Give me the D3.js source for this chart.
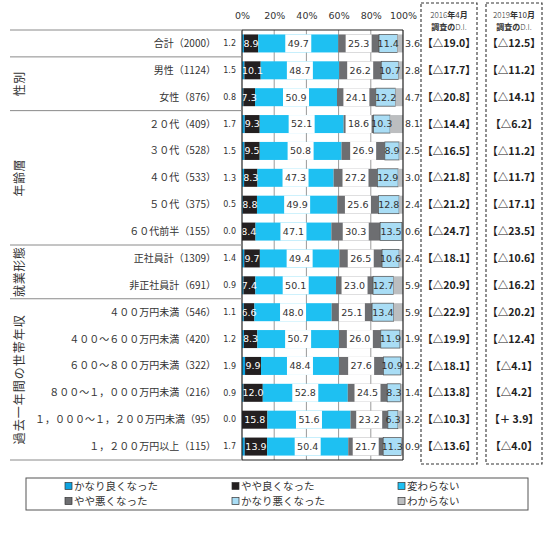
<!DOCTYPE html>
<html>
<head>
<meta charset="utf-8">
<script src="https://cdn.jsdelivr.net/npm/d3@7"></script>
<style>
  body { margin: 0; background: #fff; }
  svg { display: block; }
</style>
</head>
<body>
<svg id="chart" width="549" height="535"></svg>
<script>
// Survey categories (row labels) and their group headings
const categories = [
  "合計（2000）", "男性（1124）", "女性（876）",
  "２０代（409）", "３０代（528）", "４０代（533）", "５０代（375）", "６０代前半（155）",
  "正社員計（1309）", "非正社員計（691）",
  "４００万円未満（546）", "４００～６００万円未満（420）", "６００～８００万円未満（322）",
  "８００～１，０００万円未満（216）", "１，０００～１，２００万円未満（95）", "１，２００万円以上（115）"
];
const groups = [
  { name: "性別", first: 1, last: 2 },
  { name: "年齢層", first: 3, last: 7 },
  { name: "就業形態", first: 8, last: 9 },
  { name: "過去一年間の世帯年収", first: 10, last: 15 }
];

// Answer shares (%) per category
const seriesNames = ["かなり良くなった", "やや良くなった", "変わらない", "やや悪くなった", "かなり悪くなった", "わからない"];
const muchBetter   = [1.2, 1.5, 0.8, 1.7, 1.5, 1.3, 0.5, 0.0, 1.4, 0.9, 1.1, 1.2, 1.9, 0.9, 0.0, 1.7];
const littleBetter = [8.9, 10.1, 7.3, 9.3, 9.5, 8.3, 8.8, 8.4, 9.7, 7.4, 6.6, 8.3, 9.9, 12.0, 15.8, 13.9];
const unchanged    = [49.7, 48.7, 50.9, 52.1, 50.8, 47.3, 49.9, 47.1, 49.4, 50.1, 48.0, 50.7, 48.4, 52.8, 51.6, 50.4];
const littleWorse  = [25.3, 26.2, 24.1, 18.6, 26.9, 27.2, 25.6, 30.3, 26.5, 23.0, 25.1, 26.0, 27.6, 24.5, 23.2, 21.7];
const muchWorse    = [11.4, 10.7, 12.2, 10.3, 8.9, 12.9, 12.8, 13.5, 10.6, 12.7, 13.4, 11.9, 10.9, 8.3, 6.3, 11.3];
const unknown      = [3.6, 2.8, 4.7, 8.1, 2.5, 3.0, 2.4, 0.6, 2.4, 5.9, 5.9, 1.9, 1.2, 1.4, 3.2, 0.9];

// Diffusion index columns
const diHeaders = [
  { year: "2016", yearMark: "年", month: "4", monthMark: "月" },
  { year: "2019", yearMark: "年", month: "10", monthMark: "月" }
];
const di2016 = ["【△19.0】", "【△17.7】", "【△20.8】", "【△14.4】", "【△16.5】", "【△21.8】", "【△21.2】", "【△24.7】",
                "【△18.1】", "【△20.9】", "【△22.9】", "【△19.9】", "【△18.1】", "【△13.8】", "【△10.3】", "【△13.6】"];
const di2019 = ["【△12.5】", "【△11.2】", "【△14.1】", "【△6.2】", "【△11.2】", "【△11.7】", "【△17.1】", "【△23.5】",
                "【△10.6】", "【△16.2】", "【△20.2】", "【△12.4】", "【△4.1】", "【△4.2】", "【＋ 3.9】", "【△4.0】"];

const tickValues = [0, 20, 40, 60, 80, 100];

const colors = ["#0ea3e0", "#231f20", "#1ec0f2", "#6d6e71", "#a9ddf5", "#bcbec0"];
const JP = "'Noto Sans CJK JP', 'Noto Sans', sans-serif";
const NUM = "'DejaVu Sans', Verdana, sans-serif";

const svg = d3.select("#chart");

const x = d3.scaleLinear().domain([0, 100]).range([242, 403]);
const y = d3.scaleBand().domain(d3.range(categories.length)).range([30, 460])
  .paddingInner(0.33).paddingOuter(0.165);
const step = y.step();
const yTop = 30, yBot = 460;

// Stack the six answer series per row
const seriesArrays = [muchBetter, littleBetter, unchanged, littleWorse, muchWorse, unknown];
const rows = categories.map((c, i) => {
  let acc = 0;
  return seriesArrays.map((arr, k) => {
    const seg = { row: i, k, v: arr[i], x0: acc, x1: Math.min(100, acc + arr[i]) };
    acc += arr[i];
    return seg;
  });
});

// Gridlines
svg.append("g").selectAll("line").data([20, 40, 60, 80]).join("line")
  .attr("x1", d => x(d)).attr("x2", d => x(d))
  .attr("y1", yTop).attr("y2", yBot)
  .attr("stroke", "#9a9a9a").attr("stroke-width", 1);

// Axis labels along the top
const axis = d3.axisTop(x).tickValues(tickValues).tickSize(0).tickFormat(d => d + "%");
const ax = svg.append("g").attr("transform", "translate(0,16)").call(axis);
ax.select(".domain").remove();
ax.selectAll("text").attr("font-family", NUM).attr("font-size", 9.5).attr("fill", "#333").attr("dy", "0.32em").attr("y", 0);

// Bars
const barG = svg.append("g");
rows.forEach(segs => {
  const g = barG.append("g");
  g.selectAll("rect").data(segs).join("rect")
    .attr("x", d => x(d.x0))
    .attr("width", d => Math.max(0, x(d.x1) - x(d.x0)))
    .attr("y", d => y(d.row))
    .attr("height", y.bandwidth())
    .attr("fill", d => colors[d.k])
    .attr("stroke", d => d.k === 4 ? "#4a4a4a" : "none")
    .attr("stroke-width", 0.7);
});

// Value labels
const lblG = svg.append("g").attr("font-family", NUM).attr("font-size", 9.5);
rows.forEach(segs => {
  const i = segs[0].row;
  const cy = y(i) + y.bandwidth() / 2;
  // かなり良くなった: outside on the left
  lblG.append("text").attr("x", 236).attr("y", cy).attr("dy", "0.35em")
    .attr("text-anchor", "end").attr("font-size", 8).attr("fill", "#333")
    .text(segs[0].v.toFixed(1));
  // やや良くなった: white on black
  const s1 = segs[1];
  lblG.append("text").attr("x", (x(s1.x0) + x(s1.x1)) / 2).attr("y", cy).attr("dy", "0.35em")
    .attr("text-anchor", "middle").attr("fill", "#fff").text(s1.v.toFixed(1));
  // 変わらない and やや悪くなった: dark text on a white box
  [segs[2], segs[3]].forEach(s => {
    const cx = (x(s.x0) + x(s.x1)) / 2;
    lblG.append("rect").attr("x", cx - 13).attr("y", y(i)).attr("width", 26)
      .attr("height", y.bandwidth()).attr("fill", "#fff");
    lblG.append("text").attr("x", cx).attr("y", cy).attr("dy", "0.35em")
      .attr("text-anchor", "middle").attr("fill", "#333").text(s.v.toFixed(1));
  });
  // かなり悪くなった: centered on the segment
  const s4 = segs[4];
  lblG.append("text").attr("x", (x(s4.x0) + x(s4.x1)) / 2).attr("y", cy).attr("dy", "0.35em")
    .attr("text-anchor", "middle").attr("fill", "#333").text(s4.v.toFixed(1));
  // わからない: right of the bar
  lblG.append("text").attr("x", x(100) + 2).attr("y", cy).attr("dy", "0.35em")
    .attr("text-anchor", "start").attr("fill", "#333").text(segs[5].v.toFixed(1));
});

// Plot frame
const frame = svg.append("g").attr("stroke", "#222").attr("stroke-width", 1.2);
frame.append("line").attr("x1", x(0)).attr("x2", x(0)).attr("y1", yTop).attr("y2", yBot);
frame.append("line").attr("x1", x(100)).attr("x2", x(100)).attr("y1", yTop).attr("y2", yBot);
frame.append("line").attr("x1", x(0)).attr("x2", x(100)).attr("y1", yTop).attr("y2", yTop);
frame.append("line").attr("x1", x(0)).attr("x2", x(100)).attr("y1", yBot).attr("y2", yBot);

// Row-group separators on the label side
const sepYs = [yTop, yTop + step, ...groups.map(g => yTop + (g.last + 1) * step)];
svg.append("g").selectAll("line").data(sepYs).join("line")
  .attr("x1", 10).attr("x2", x(0)).attr("y1", d => d).attr("y2", d => d)
  .attr("stroke", "#8a8a8a").attr("stroke-width", 1);

// Category labels
svg.append("g").selectAll("text").data(categories).join("text")
  .attr("x", 216).attr("y", (d, i) => y(i) + y.bandwidth() / 2).attr("dy", "0.35em")
  .attr("text-anchor", "end").attr("font-family", JP).attr("font-size", 10).attr("fill", "#333")
  .text(d => d);

// Group labels, rotated
svg.append("g").selectAll("text").data(groups).join("text")
  .attr("transform", g => `translate(20,${yTop + (g.first + g.last + 1) / 2 * step}) rotate(-90)`)
  .attr("text-anchor", "middle").attr("dy", "0.35em")
  .attr("font-family", JP).attr("font-size", 12).attr("fill", "#333")
  .attr("letter-spacing", g => g.name.length > 5 ? 1 : 0.5)
  .text(g => g.name);

// Diffusion index columns
const diCols = [{ x0: 421, x1: 477, vals: di2016, h: diHeaders[0] }, { x0: 486, x1: 542, vals: di2019, h: diHeaders[1] }];
diCols.forEach(col => {
  const g = svg.append("g");
  const cx = (col.x0 + col.x1) / 2;
  g.append("rect").attr("x", col.x0).attr("y", 3).attr("width", col.x1 - col.x0).attr("height", 461)
    .attr("fill", "none").attr("stroke", "#333").attr("stroke-width", 1.1).attr("stroke-dasharray", "3,2");
  const t1 = g.append("text").attr("x", cx).attr("y", 18).attr("text-anchor", "middle")
    .attr("font-family", JP).attr("font-size", 8).attr("fill", "#333");
  t1.append("tspan").attr("font-weight", 300).text(col.h.year);
  t1.append("tspan").attr("font-weight", 700).text(col.h.yearMark);
  t1.append("tspan").attr("font-weight", 400).text(col.h.month);
  t1.append("tspan").attr("font-weight", 700).text(col.h.monthMark);
  const t2 = g.append("text").attr("x", cx).attr("y", 30).attr("text-anchor", "middle")
    .attr("font-family", JP).attr("font-size", 8).attr("fill", "#333");
  t2.append("tspan").attr("font-weight", 700).text("調査の");
  t2.append("tspan").attr("font-weight", 300).text("D.I.");
  g.selectAll("text.v").data(col.vals).join("text").attr("class", "v")
    .attr("x", cx).attr("y", (d, i) => y(i) + y.bandwidth() / 2).attr("dy", "0.35em")
    .attr("text-anchor", "middle").attr("font-family", JP).attr("font-weight", 700)
    .attr("font-size", 10.5).attr("fill", "#222").text(d => d);
});

// Legend
const legend = svg.append("g");
legend.append("rect").attr("x", 26).attr("y", 478).attr("width", 502).attr("height", 32)
  .attr("fill", "#fff").attr("stroke", "#555").attr("stroke-width", 1);
const colX = [65, 232, 398], rowY = [486, 501];
seriesNames.forEach((name, k) => {
  const lx = colX[k % 3], ly = rowY[Math.floor(k / 3)];
  legend.append("rect").attr("x", lx).attr("y", ly - 3.5).attr("width", 7).attr("height", 7)
    .attr("fill", colors[k]).attr("stroke", "#333").attr("stroke-width", 0.7);
  legend.append("text").attr("x", lx + 9).attr("y", ly).attr("dy", "0.35em")
    .attr("font-family", JP).attr("font-size", 10.5).attr("fill", "#333").text(name);
});
</script>
</body>
</html>
